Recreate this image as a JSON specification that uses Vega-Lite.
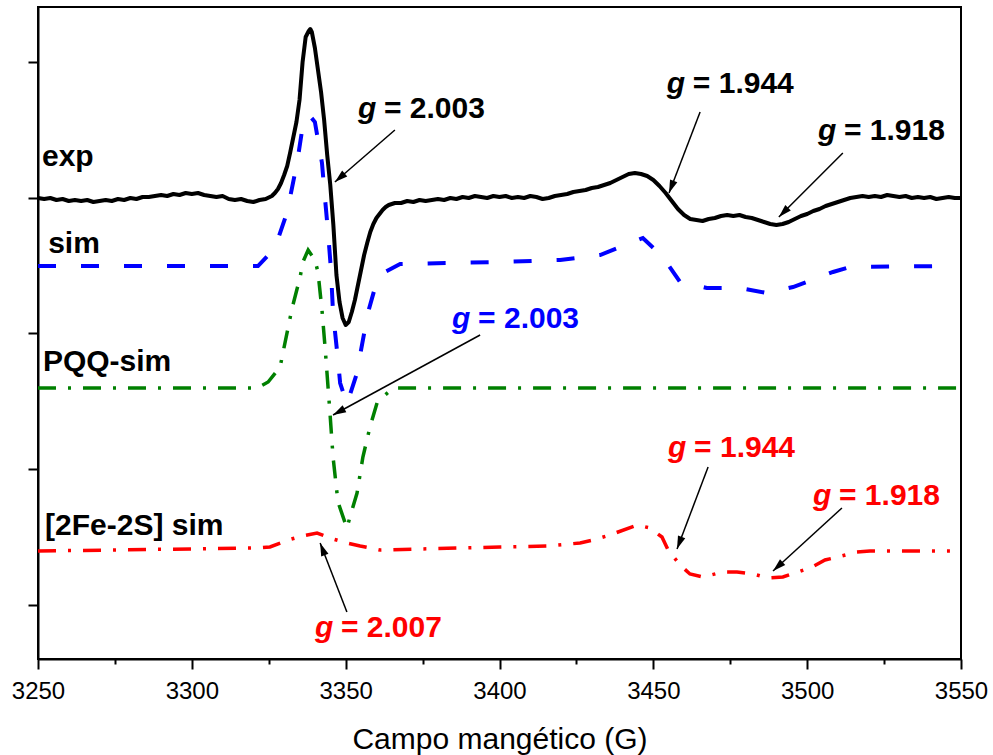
{
  "$schema": "https://vega.github.io/schema/vega-lite/v6.json",
  "width": 923,
  "height": 652,
  "autosize": "none",
  "padding": {"left": 38, "top": 7, "right": 32, "bottom": 96},
  "background": "white",
  "config": {"view": {"stroke": "black", "strokeWidth": 2}, "font": "Liberation Sans"},
  "datasets": {
    "exp": [
      {"G":3250,"v":461},{"G":3252,"v":460},{"G":3254,"v":461},{"G":3256,"v":459},{"G":3258,"v":460},{"G":3260,"v":458},{"G":3262,"v":459},{"G":3264,"v":458},{"G":3266,"v":459},{"G":3268,"v":457},{"G":3270,"v":458},{"G":3272,"v":459},{"G":3274,"v":458},{"G":3276,"v":460},{"G":3278,"v":459},{"G":3280,"v":461},{"G":3282,"v":460},{"G":3284,"v":462},{"G":3286,"v":462},{"G":3288,"v":463},{"G":3290,"v":464},{"G":3292,"v":463},{"G":3294,"v":465},{"G":3296,"v":464},{"G":3298,"v":466},{"G":3300,"v":465},{"G":3302,"v":466},{"G":3304,"v":464},{"G":3306,"v":463},{"G":3308,"v":462},{"G":3310,"v":463},{"G":3312,"v":460},{"G":3314,"v":459},{"G":3316,"v":460},{"G":3318,"v":458},{"G":3320,"v":457},{"G":3322,"v":459},{"G":3324,"v":460},{"G":3326,"v":463},{"G":3327,"v":466},{"G":3328,"v":470},{"G":3329,"v":476},{"G":3330,"v":484},{"G":3331,"v":493},{"G":3332,"v":507},{"G":3333,"v":522},{"G":3334,"v":537},{"G":3335,"v":559},{"G":3336,"v":597},{"G":3337,"v":622},{"G":3338,"v":628},{"G":3338.5,"v":630},{"G":3339,"v":627},{"G":3340,"v":611},{"G":3341,"v":589},{"G":3342,"v":567},{"G":3343,"v":539},{"G":3344,"v":504},{"G":3345,"v":474},{"G":3346,"v":434},{"G":3347,"v":384},{"G":3348,"v":357},{"G":3349,"v":341},{"G":3350,"v":334},{"G":3351,"v":337},{"G":3352,"v":347},{"G":3353,"v":359},{"G":3354,"v":374},{"G":3355,"v":389},{"G":3356,"v":404},{"G":3357,"v":416},{"G":3358,"v":427},{"G":3359,"v":435},{"G":3360,"v":441},{"G":3361,"v":445},{"G":3362,"v":449},{"G":3363,"v":452},{"G":3364,"v":454},{"G":3365,"v":455},{"G":3366,"v":456},{"G":3368,"v":456},{"G":3370,"v":458},{"G":3372,"v":457},{"G":3374,"v":459},{"G":3376,"v":458},{"G":3378,"v":459},{"G":3380,"v":460},{"G":3382,"v":459},{"G":3384,"v":461},{"G":3386,"v":460},{"G":3388,"v":462},{"G":3390,"v":461},{"G":3392,"v":463},{"G":3394,"v":462},{"G":3396,"v":461},{"G":3398,"v":463},{"G":3400,"v":462},{"G":3402,"v":463},{"G":3404,"v":461},{"G":3406,"v":462},{"G":3408,"v":461},{"G":3410,"v":463},{"G":3412,"v":462},{"G":3414,"v":460},{"G":3416,"v":461},{"G":3418,"v":463},{"G":3420,"v":464},{"G":3422,"v":465},{"G":3424,"v":467},{"G":3426,"v":468},{"G":3428,"v":469},{"G":3430,"v":471},{"G":3432,"v":472},{"G":3434,"v":474},{"G":3436,"v":476},{"G":3438,"v":479},{"G":3440,"v":482},{"G":3442,"v":485},{"G":3444,"v":486},{"G":3446,"v":485},{"G":3448,"v":483},{"G":3450,"v":479},{"G":3452,"v":473},{"G":3454,"v":466},{"G":3456,"v":458},{"G":3458,"v":450},{"G":3460,"v":444},{"G":3462,"v":440},{"G":3464,"v":439},{"G":3466,"v":438},{"G":3468,"v":440},{"G":3470,"v":441},{"G":3472,"v":443},{"G":3474,"v":444},{"G":3476,"v":443},{"G":3478,"v":444},{"G":3480,"v":442},{"G":3482,"v":441},{"G":3484,"v":439},{"G":3486,"v":437},{"G":3488,"v":435},{"G":3490,"v":434},{"G":3492,"v":435},{"G":3494,"v":437},{"G":3496,"v":440},{"G":3498,"v":443},{"G":3500,"v":445},{"G":3502,"v":448},{"G":3504,"v":450},{"G":3506,"v":453},{"G":3508,"v":455},{"G":3510,"v":457},{"G":3512,"v":459},{"G":3514,"v":461},{"G":3516,"v":462},{"G":3518,"v":463},{"G":3520,"v":462},{"G":3522,"v":463},{"G":3524,"v":462},{"G":3526,"v":464},{"G":3528,"v":463},{"G":3530,"v":462},{"G":3532,"v":463},{"G":3534,"v":461},{"G":3536,"v":462},{"G":3538,"v":461},{"G":3540,"v":462},{"G":3542,"v":460},{"G":3544,"v":461},{"G":3546,"v":462},{"G":3548,"v":461},{"G":3550,"v":461}
    ],
    "sim": [
      {"G":3250,"v":393},{"G":3321.5,"v":393},{"G":3327.0,"v":411},{"G":3330.9,"v":446},{"G":3334.2,"v":496},{"G":3336.1,"v":534},{"G":3338.1,"v":544},{"G":3340.0,"v":537},{"G":3342.3,"v":496},{"G":3343.3,"v":460},{"G":3344.3,"v":426},{"G":3345.2,"v":390},{"G":3345.9,"v":346},{"G":3347.5,"v":299},{"G":3348.2,"v":276},{"G":3350.4,"v":255},{"G":3353.7,"v":286},{"G":3354.7,"v":304},{"G":3357.3,"v":347},{"G":3359.5,"v":371},{"G":3362.1,"v":386},{"G":3367.7,"v":395},{"G":3400.2,"v":397},{"G":3419.7,"v":399},{"G":3432.7,"v":404},{"G":3446.6,"v":421},{"G":3453.1,"v":402},{"G":3458.7,"v":377},{"G":3467.4,"v":371},{"G":3478.2,"v":371},{"G":3486.9,"v":366},{"G":3495.4,"v":372},{"G":3508.4,"v":387},{"G":3513.9,"v":392},{"G":3546.4,"v":393}
    ],
    "pqq": [
      {"G":3250,"v":271},{"G":3321.2,"v":271},{"G":3324.8,"v":277},{"G":3328.7,"v":292},{"G":3329.6,"v":306},{"G":3332.6,"v":351},{"G":3335.2,"v":382},{"G":3336.1,"v":397},{"G":3337.8,"v":409},{"G":3340.0,"v":399},{"G":3341.0,"v":387},{"G":3342.3,"v":349},{"G":3343.3,"v":312},{"G":3344.9,"v":246},{"G":3345.9,"v":202},{"G":3347.5,"v":157},{"G":3350.4,"v":131},{"G":3351.4,"v":142},{"G":3353.7,"v":166},{"G":3355.6,"v":202},{"G":3357.9,"v":232},{"G":3360.2,"v":256},{"G":3362.1,"v":262},{"G":3365.4,"v":271},{"G":3549.7,"v":271}
    ],
    "fes": [
      {"G":3250,"v":108},{"G":3321.2,"v":111},{"G":3325.4,"v":112},{"G":3331.3,"v":119},{"G":3335.8,"v":123},{"G":3340.7,"v":126},{"G":3345.9,"v":120},{"G":3350.4,"v":116},{"G":3354.7,"v":113},{"G":3361.2,"v":109},{"G":3400.2,"v":112},{"G":3415.4,"v":113},{"G":3426.2,"v":116},{"G":3430.4,"v":119},{"G":3435.9,"v":124},{"G":3444.7,"v":134},{"G":3448.9,"v":131},{"G":3452.8,"v":122},{"G":3454.8,"v":109},{"G":3458.7,"v":94},{"G":3461.9,"v":85},{"G":3466.1,"v":82},{"G":3472.6,"v":87},{"G":3477.2,"v":87},{"G":3482.4,"v":85},{"G":3487.3,"v":81},{"G":3492.1,"v":82},{"G":3496.0,"v":86},{"G":3501.6,"v":92},{"G":3505.8,"v":99},{"G":3510.0,"v":102},{"G":3516.2,"v":107},{"G":3520.4,"v":108},{"G":3546.4,"v":108}
    ],
    "arrows": [
      {"G0":3366.0,"v0":529,"G":3346.5,"v":477},
      {"G0":3465.2,"v0":547,"G":3455.1,"v":466},
      {"G0":3511.6,"v0":506,"G":3490.8,"v":442},
      {"G0":3393.7,"v0":324,"G":3345.9,"v":244},
      {"G0":3467.8,"v0":192,"G":3457.7,"v":110},
      {"G0":3511.3,"v0":151,"G":3488.9,"v":88},
      {"G0":3350.4,"v0":47,"G":3341.7,"v":116}
    ],
    "ann": [
      {"s":"exp","G":3354.0,"v":541,"text":"= 2.003"},
      {"s":"exp","G":3454.4,"v":566,"text":"= 1.944"},
      {"s":"exp","G":3503.5,"v":519,"text":"= 1.918"},
      {"s":"sim","G":3384.6,"v":331,"text":"= 2.003"},
      {"s":"fes","G":3454.8,"v":202,"text":"= 1.944"},
      {"s":"fes","G":3501.9,"v":154,"text":"= 1.918"},
      {"s":"fes","G":3340.0,"v":22,"text":"= 2.007"}
    ],
    "names": [
      {"G":3251.3,"v":493,"text":"exp"},
      {"G":3253.3,"v":406,"text":"sim"},
      {"G":3251.6,"v":288,"text":"PQQ-sim"},
      {"G":3252.3,"v":124,"text":"[2Fe-2S] sim"}
    ]
  },
  "encoding": {
    "x": {
      "field": "G", "type": "quantitative",
      "scale": {"domain": [3250, 3550], "nice": false, "zero": false},
      "axis": {
        "title": "Campo mangético (G)",
        "values": [3250,3275,3300,3325,3350,3375,3400,3425,3450,3475,3500,3525,3550],
        "format": "d",
        "labelExpr": "datum.value % 50 == 0 ? datum.label : ''",
        "tickSize": {"condition": {"test": "datum.value % 50 != 0", "value": 5}, "value": 10},
        "tickWidth": 2, "tickColor": "black",
        "domainColor": "black", "domainWidth": 2,
        "labelFont": "Liberation Sans", "labelFontSize": 24, "labelColor": "black", "labelPadding": 10,
        "labelFlush": false, "labelOverlap": false,
        "titleFont": "Liberation Sans", "titleFontSize": 30, "titleFontWeight": "normal", "titleColor": "black",
        "titleBaseline": "alphabetic", "titleY": 89,
        "grid": false
      }
    },
    "y": {
      "field": "v", "type": "quantitative",
      "scale": {"domain": [0, 652], "nice": false, "zero": false},
      "axis": {
        "title": null, "labels": false,
        "values": [54, 190, 326, 461, 597],
        "tickSize": 10, "tickWidth": 2, "tickColor": "black",
        "domainColor": "black", "domainWidth": 2, "grid": false
      }
    }
  },
  "layer": [
    {"data": {"name": "fes"}, "mark": {"type": "line", "color": "#ff0000", "strokeWidth": 3.5, "strokeDash": [18, 12, 3, 12], "strokeCap": "butt"}},
    {"data": {"name": "pqq"}, "mark": {"type": "line", "color": "#008000", "strokeWidth": 3.5, "strokeDash": [18, 12, 3, 12], "strokeCap": "butt"}},
    {"data": {"name": "sim"}, "mark": {"type": "line", "color": "#0000ff", "strokeWidth": 4, "strokeDash": [18, 25], "strokeCap": "butt"}},
    {"data": {"name": "exp"}, "mark": {"type": "line", "color": "black", "strokeWidth": 4, "strokeJoin": "round"}},
    {
      "data": {"name": "arrows"},
      "mark": {"type": "rule", "color": "black", "strokeWidth": 1.5},
      "encoding": {"x2": {"field": "G0"}, "y2": {"field": "v0"}}
    },
    {
      "data": {"name": "arrows"},
      "transform": [{"calculate": "atan2((datum.G - datum.G0) * 923 / 300, datum.v - datum.v0) * 180 / PI", "as": "ang"}],
      "mark": {"type": "point", "shape": "M0,0L-0.6,2L0.6,2Z", "filled": true, "color": "black", "opacity": 1, "size": 169},
      "encoding": {"angle": {"field": "ang", "type": "quantitative", "scale": null}}
    },
    {
      "data": {"name": "ann"},
      "mark": {"type": "text", "align": "left", "baseline": "alphabetic", "font": "Liberation Sans", "fontSize": 30, "fontWeight": "bold", "fontStyle": "italic"},
      "encoding": {
        "text": {"value": "g"},
        "color": {"field": "s", "type": "nominal", "scale": {"domain": ["exp","sim","pqq","fes"], "range": ["#000000","#0000ff","#008000","#ff0000"]}, "legend": null}
      }
    },
    {
      "data": {"name": "ann"},
      "mark": {"type": "text", "align": "left", "baseline": "alphabetic", "font": "Liberation Sans", "fontSize": 30, "fontWeight": "bold", "dx": 26},
      "encoding": {
        "text": {"field": "text"},
        "color": {"field": "s", "type": "nominal", "scale": {"domain": ["exp","sim","pqq","fes"], "range": ["#000000","#0000ff","#008000","#ff0000"]}, "legend": null}
      }
    },
    {
      "data": {"name": "names"},
      "mark": {"type": "text", "align": "left", "baseline": "alphabetic", "font": "Liberation Sans", "fontSize": 30, "fontWeight": "bold", "color": "black"},
      "encoding": {
        "text": {"field": "text"}
      }
    }
  ]
}
